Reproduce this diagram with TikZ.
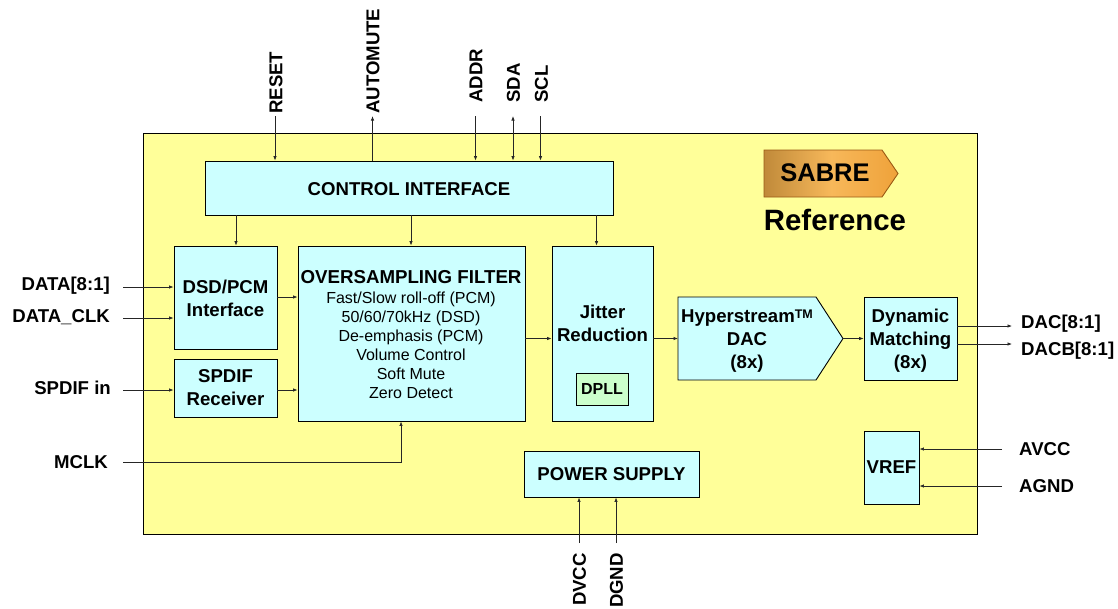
\documentclass[tikz,border=0pt]{standalone}
\usepackage{fontspec}
\setmainfont{Liberation Sans}
\usetikzlibrary{arrows.meta}
\tikzset{>={Latex[length=4.5pt,width=3.5pt]}}
\tikzset{block/.style={draw=black,line width=0.9pt,fill=blockcyan,inner sep=0pt,align=center,
    font=\bfseries\fontsize{18.6}{23}\selectfont}}
\tikzset{blocktext/.style={inner sep=0pt,align=center,font=\bfseries\fontsize{18.6}{23}\selectfont}}
\tikzset{sig/.style={line width=0.7pt,draw=black!85}}
\tikzset{pinname/.style={inner sep=0pt,font=\bfseries\fontsize{18.6}{21}\selectfont}}
\definecolor{blockcyan}{HTML}{CCFFFF}
\definecolor{chipyellow}{HTML}{FFFF99}
\definecolor{dpllgreen}{HTML}{CCFFCC}
\definecolor{badgedark}{HTML}{C08A3A}
\definecolor{badgelight}{HTML}{F7B85A}
\definecolor{badgeright}{HTML}{EFA23A}
\definecolor{badgeedge}{HTML}{9A5A14}
\begin{document}
\begin{tikzpicture}[x=1pt,y=-1pt]
      \useasboundingbox (0, 0) rectangle (1118, 608);

      \node [draw=black, line width=0.9pt, fill=chipyellow, minimum width=834pt, minimum height=401pt] (chip) at (560, 333.5) {};

      \node [block, minimum width=408pt, minimum height=54pt] (ctrl) at (409, 188) {};
      \node [blocktext] (ctrltext) at (409, 189) {CONTROL INTERFACE};
      \node [block, minimum width=103pt, minimum height=103pt] (dsd) at (225.5, 297.5) {};
      \node [blocktext] (dsdtext) at (225.5, 298.5) {DSD/PCM\\Interface};
      \node [block, minimum width=103pt, minimum height=58pt] (spdif) at (225.5, 388) {SPDIF\\Receiver};
      \node [block, minimum width=227pt, minimum height=175pt, font=\mdseries\fontsize{16}{19}\selectfont] (filter) at (411.5, 333.5) {};
      \node [inner sep=0pt, align=center, font=\mdseries\fontsize{16}{19}\selectfont] (filtertext) at (411, 335) {\bfseries\fontsize{18.7}{19}\selectfont OVERSAMPLING FILTER\\[1pt]
        Fast/Slow roll-off (PCM)\\
        50/60/70kHz (DSD)\\
        De-emphasis (PCM)\\
        Volume Control\\
        Soft Mute\\
        Zero Detect};
      \node [block, minimum width=101pt, minimum height=175pt] (jitter) at (602.5, 333.5) {};
      \node [blocktext] (jittertext) at (602.5, 323) {Jitter\\Reduction};
      \node [block, fill=dpllgreen, minimum width=52pt, minimum height=32pt, font=\bfseries\fontsize{16}{19}\selectfont] (dpll) at (602, 389) {DPLL};

      \draw [block] (678, 297) -- (816, 297) -- (843, 338.5) -- (816, 380) -- (678, 380) -- cycle;
      \coordinate (dactip) at (843, 338.5);
      \coordinate (dacin) at (678, 338.5);
      \node [blocktext] (dac) at (747, 341) {Hyperstream\raisebox{4.5pt}{\fontsize{12.5}{12}\selectfont TM}\\DAC\\(8x)};

      \node [block, minimum width=93pt, minimum height=83pt] (dynamic) at (910.5, 338.5) {};
      \node [blocktext] (dynamictext) at (910.5, 341) {Dynamic\\Matching\\(8x)};
      \node [block, minimum width=55pt, minimum height=73pt] (vref) at (891.5, 467.5) {VREF};
      \node [block, minimum width=175pt, minimum height=46pt] (power) at (611.5, 474) {POWER SUPPLY};

      % badge
      \path [draw=badgeedge, line width=0.9pt, left color=badgedark, right color=badgeright, middle color=badgelight]
        (764, 150) -- (882, 150) -- (898, 173.5) -- (882, 197) -- (764, 197) -- cycle;
      \node [inner sep=0pt, text=black, font=\bfseries\fontsize{25.5}{28}\selectfont] (sabre) at (825, 173) {SABRE};
      \node [inner sep=0pt, font=\bfseries\fontsize{29.4}{32}\selectfont] (reftitle) at (835, 220) {Reference};

      % pins on top
      \node [pinname, rotate=90, anchor=west] (reset) at (276, 114) {RESET};
      \node [pinname, rotate=90, anchor=west] (automute) at (373, 114) {AUTOMUTE};
      \node [pinname, rotate=90, anchor=west] (addr) at (476, 103) {ADDR};
      \node [pinname, rotate=90, anchor=west] (sda) at (513.5, 103) {SDA};
      \node [pinname, rotate=90, anchor=west] (scl) at (541.5, 103) {SCL};
      \coordinate (resetend) at (275, 116);
      \coordinate (automuteend) at (372.5, 116);
      \coordinate (addrend) at (475.5, 116);
      \coordinate (sdaend) at (513, 116);
      \coordinate (sclend) at (540.5, 116);
      \draw [sig, ->] (resetend) -- (resetend |- ctrl.north);
      \draw [sig, ->] (automuteend |- ctrl.north) -- (automuteend);
      \draw [sig, ->] (addrend) -- (addrend |- ctrl.north);
      \draw [sig, <->] (sdaend) -- (sdaend |- ctrl.north);
      \draw [sig, ->] (sclend) -- (sclend |- ctrl.north);

      % below the control block
      \coordinate (dsdtap) at (236, 215);
      \coordinate (filtertap) at (411, 215);
      \coordinate (jittertap) at (596.5, 215);
      \draw [sig, ->] (dsdtap) -- (dsdtap |- dsd.north);
      \draw [sig, ->] (filtertap) -- (filtertap |- filter.north);
      \draw [sig, ->] (jittertap) -- (jittertap |- jitter.north);

      % pins on the left
      \node [pinname, anchor=east] (data) at (110, 286) {DATA[8:1]};
      \node [pinname, anchor=east] (dataclk) at (110, 317) {DATA\_CLK};
      \node [pinname, anchor=east] (spdifin) at (111, 388) {SPDIF in};
      \node [pinname, anchor=east] (mclk) at (108, 462) {MCLK};
      \coordinate (dataend) at (123, 287);
      \coordinate (clkend) at (123, 318);
      \coordinate (spdifend) at (123, 390);
      \coordinate (mclkend) at (123, 462);
      \coordinate (mclkup) at (401, 462);
      \draw [sig, ->] (dataend) -- (dataend -| dsd.west);
      \draw [sig, ->] (clkend) -- (clkend -| dsd.west);
      \draw [sig, ->] (spdifend) -- (spdifend -| spdif.west);
      \draw [sig, ->] (mclkend) -- (mclkup) -- (mclkup |- filter.south);

      % signal path
      \coordinate (dsdout) at (277, 297);
      \coordinate (spdifout) at (277, 390);
      \draw [sig, ->] (dsdout) -- (dsdout -| filter.west);
      \draw [sig, ->] (spdifout) -- (spdifout -| filter.west);
      \draw [sig, ->] (filter.east |- dacin) -- (jitter.west |- dacin);
      \draw [sig, ->] (jitter.east |- dacin) -- (dacin);
      \draw [sig, ->] (dactip) -- (dynamic.west |- dactip);

      % pins on the right
      \node [pinname, anchor=west] (dacout) at (1021, 323.5) {DAC[8:1]};
      \node [pinname, anchor=west] (dacbout) at (1021, 350.5) {DACB[8:1]};
      \node [pinname, anchor=west] (avcc) at (1019, 449) {AVCC};
      \node [pinname, anchor=west] (agnd) at (1019, 486) {AGND};
      \coordinate (dacend) at (1012, 326);
      \coordinate (dacbend) at (1012, 344);
      \coordinate (avccend) at (1002, 449);
      \coordinate (agndend) at (1002, 486);
      \draw [sig, ->] (dynamic.east |- dacend) -- (dacend);
      \draw [sig, ->] (dynamic.east |- dacbend) -- (dacbend);
      \draw [sig, ->] (avccend) -- (avccend -| vref.east);
      \draw [sig, ->] (agndend) -- (agndend -| vref.east);

      % pins on the bottom
      \node [pinname, rotate=90, anchor=east] (dvcc) at (579.5, 553) {DVCC};
      \node [pinname, rotate=90, anchor=east] (dgnd) at (616.5, 553) {DGND};
      \coordinate (dvccend) at (579, 543);
      \coordinate (dgndend) at (616, 543);
      \draw [sig, ->] (dvccend) -- (dvccend |- power.south);
      \draw [sig, ->] (dgndend) -- (dgndend |- power.south);
    \end{tikzpicture}
\end{document}
